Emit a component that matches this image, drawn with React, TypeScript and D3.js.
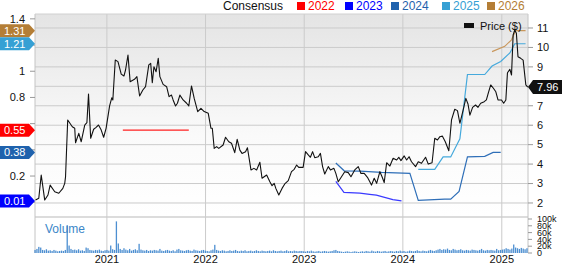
import React, { useEffect } from 'react';
import * as d3 from 'd3';

// ---------- DATA ----------
const priceDates = [
  '2020-04-12','2020-04-24','2020-05-03','2020-05-16','2020-05-28','2020-06-05','2020-06-22','2020-07-07','2020-07-22','2020-07-29',
  '2020-08-01','2020-08-09','2020-08-26','2020-09-04','2020-09-07','2020-09-19','2020-09-28','2020-10-11','2020-10-19','2020-10-25',
  '2020-11-02','2020-11-13','2020-11-22','2020-12-01','2020-12-11','2020-12-20','2020-12-29','2021-01-11','2021-01-19','2021-01-23',
  '2021-02-01','2021-02-11','2021-02-23','2021-03-05','2021-03-11','2021-03-20','2021-03-28','2021-04-13','2021-04-22','2021-05-02',
  '2021-05-14','2021-05-24','2021-06-05','2021-06-12','2021-06-18','2021-06-24','2021-07-02','2021-07-10','2021-07-16','2021-07-28',
  '2021-08-10','2021-08-19','2021-08-28','2021-09-03','2021-09-12','2021-09-19','2021-09-28','2021-10-10','2021-10-23','2021-10-31',
  '2021-11-10','2021-11-20','2021-12-03','2021-12-15','2021-12-27','2022-01-11','2022-01-21','2022-01-26','2022-02-02','2022-02-11',
  '2022-02-19','2022-03-07','2022-03-16','2022-03-28','2022-04-07','2022-04-19','2022-04-28','2022-05-08','2022-05-16','2022-05-29',
  '2022-06-05','2022-06-18','2022-06-29','2022-07-09','2022-07-21','2022-07-29','2022-08-15','2022-08-27','2022-09-04','2022-09-12',
  '2022-09-18','2022-09-29','2022-10-11','2022-10-21','2022-11-03','2022-11-15','2022-11-25','2022-12-04','2022-12-12','2022-12-28',
  '2023-01-06','2023-01-16','2023-01-24','2023-02-01','2023-02-09','2023-02-22','2023-03-02','2023-03-10','2023-03-18','2023-03-31',
  '2023-04-08','2023-04-21','2023-04-28','2023-05-07','2023-05-19','2023-05-31','2023-06-13','2023-06-23','2023-07-07','2023-07-20',
  '2023-07-30','2023-08-11','2023-08-23','2023-09-07','2023-09-17','2023-09-26','2023-10-08','2023-10-16','2023-10-24','2023-11-02',
  '2023-11-14','2023-11-26','2023-12-09','2023-12-17','2023-12-25','2024-01-06','2024-01-15','2024-01-24','2024-02-02','2024-02-17',
  '2024-02-27','2024-03-10','2024-03-25','2024-04-04','2024-04-18','2024-04-28','2024-05-08','2024-05-17','2024-05-26','2024-06-06',
  '2024-06-19','2024-06-29','2024-07-11','2024-07-21','2024-07-30','2024-08-11','2024-08-21','2024-08-29','2024-09-05','2024-09-15',
  '2024-09-26','2024-10-05','2024-10-15','2024-10-28','2024-11-05','2024-11-11','2024-11-21','2024-12-01','2024-12-10','2024-12-18',
  '2024-12-31','2025-01-08','2025-01-16','2025-01-22','2025-01-31','2025-02-06','2025-02-12','2025-02-18','2025-02-24','2025-03-02',
  '2025-03-12','2025-03-21','2025-03-31','2025-04-07',
];
const priceValues = [
  2.15, 2.24, 3.44, 2.15, 2.41, 2.92, 2.58, 2.5, 2.75, 3.01,
  3.35, 6.27, 5.92, 5.84, 5.1, 5.58, 5.15, 6.01, 6.13, 7.6,
  5.33, 5.79, 5.89, 6.01, 5.75, 5.38, 5.84, 6.99, 7.41, 7.3,
  9.35, 9.27, 8.63, 8.53, 8.84, 9.61, 8.24, 8.36, 8.5, 7.5,
  7.81, 7.98, 9.1, 9.18, 8.19, 9.01, 8.75, 9.44, 8.5, 8.1,
  7.98, 7.47, 7.55, 7.3, 6.99, 7.13, 7.55, 7.3, 7.13, 6.99,
  8.02, 7.38, 6.7, 6.87, 6.7, 6.61, 5.84, 5.84, 4.81, 4.9,
  4.81, 4.98, 5.38, 5.15, 5.07, 4.59, 5.27, 4.72, 4.55, 4.64,
  4.84, 3.7, 3.78, 3.7, 4.09, 3.27, 3.44, 3.09, 2.89, 3.01,
  2.75, 2.41, 2.75, 2.98, 3.15, 3.61, 3.73, 3.95, 3.83, 3.83,
  4.64, 4.47, 4.35, 4.64, 4.33, 4.38, 4.55, 3.87, 3.49, 3.87,
  3.7, 3.78, 3.52, 3.09, 3.35, 3.61, 3.56, 3.35, 3.7, 3.87,
  3.52, 3.52, 3.32, 2.92, 3.27, 3.01, 3.61, 3.35, 3.05, 4.07,
  3.9, 4.3, 4.21, 4.35, 4.18, 4.42, 4.21, 4.38, 4.12, 3.87,
  4.12, 4.04, 4.35, 4.0, 4.07, 5.33, 5.24, 5.41, 5.44, 5.15,
  4.69, 6.27, 6.82, 6.75, 6.1, 6.78, 7.38, 7.09, 6.52, 6.92,
  7.04, 6.92, 7.13, 7.21, 7.3, 7.6, 8.07, 7.9, 7.72, 7.3,
  7.3, 7.13, 7.3, 8.7, 8.87, 8.58, 10.64, 10.9, 10.73, 9.52,
  9.44, 9.35, 8.07, 7.96,
];

const consensusYears = ['2022', '2023', '2024', '2025', '2026'];
const eps2022Dates = ['2021-03-01', '2021-10-31'];
const eps2022Values = [0.55, 0.55];
const eps2023Dates = ['2023-04-28', '2023-05-28', '2023-07-26', '2023-08-31', '2023-09-25', '2023-11-25', '2023-12-27'];
const eps2023Values = [0.16, 0.075, 0.07, 0.06, 0.054, 0.02, 0.01];
const eps2024Dates = ['2023-04-28', '2023-05-29', '2023-07-26', '2023-10-14', '2024-01-27', '2024-02-27', '2024-06-04', '2024-06-26', '2024-07-27', '2024-08-27', '2024-10-30', '2024-11-30', '2024-12-28'];
const eps2024Values = [0.30, 0.24, 0.238, 0.228, 0.22, 0.014, 0.024, 0.024, 0.082, 0.346, 0.35, 0.38, 0.38];
const eps2025Dates = ['2024-02-27', '2024-04-28', '2024-05-29', '2024-06-26', '2024-07-30', '2024-08-27', '2024-10-30', '2024-11-26', '2024-12-28', '2025-01-31', '2025-02-18', '2025-03-30'];
const eps2025Values = [0.251, 0.251, 0.346, 0.346, 0.485, 0.975, 0.975, 1.04, 1.075, 1.14, 1.21, 1.21];
const eps2026Dates = ['2024-11-26', '2025-01-12', '2025-02-06', '2025-02-21', '2025-03-30'];
const eps2026Values = [1.15, 1.19, 1.24, 1.31, 1.31];

const volumeStart = '2020-04-10';
const volumeK = [
  9, 12, 18, 16, 9, 8, 11, 7, 8, 6, 9, 7, 5, 6, 7, 6, 9,
  82,
  22, 12, 9, 10, 8, 11, 7, 8, 6, 16, 14, 9, 8,
  7, 9, 8, 10, 7, 6, 8, 9, 7, 22, 11, 9,
  93,
  28, 12, 9, 14, 10, 8, 12, 7, 9, 11, 8, 27,
  10, 8, 7, 9, 6, 8, 7, 9, 8, 7, 12, 7, 6, 8, 9, 7, 6, 8, 5, 10, 12, 8, 7, 6, 8, 9, 7, 6, 10, 8, 7, 6, 8, 9, 7, 6, 5, 8, 10, 24,
  9, 7, 6, 8, 7, 5, 6, 8, 6, 7, 9, 6, 5, 7, 6, 8, 5, 6, 7, 5, 6, 8, 6, 5, 7, 6, 5, 6, 7, 5, 8, 6, 5, 6, 7, 5, 6, 8, 5, 6, 5, 7, 6, 5, 6,
  6, 5, 4, 6, 5, 7, 5, 4, 5, 6, 4, 5, 6, 5, 4, 5, 6, 8, 9, 6, 5, 4, 3, 4, 5, 4, 3, 4, 5, 4, 3, 4, 5, 4, 6, 5, 4, 7, 5, 4, 6, 5, 4, 5, 6, 4, 5, 6, 5, 4,
  6, 5, 7, 5, 6, 4, 5, 7, 6, 5, 6, 8, 6, 5, 7, 6, 5, 7, 9, 7, 6, 8, 10, 12, 9, 11, 10, 13, 9, 8, 12, 10, 8, 9, 11, 8, 7, 9, 8, 7, 10, 9, 8, 7, 9, 12, 8, 7, 9, 8,
  9, 8, 7, 12, 8, 9, 10, 11, 14, 12, 10, 13, 25, 16, 14, 12, 15, 13, 11, 14,
];

const priceTicks = [2, 3, 4, 5, 6, 7, 8, 9, 10, 11];
const epsTicks = [0, 0.2, 0.4, 0.6, 0.8, 1, 1.2, 1.4];
const volumeTicks = [0, 20, 40, 60, 80, 100];
const yearTicks = ['2021', '2022', '2023', '2024', '2025'];

// ---------- CHART ----------
const W = 562, H = 264;
const PL = 35, PR = 528, PT = 14, PB = 216, VT = 219, VB = 253;
const FONT = "'Liberation Sans', Arial, Helvetica, sans-serif";
const yearColors: Record<string, string> = {
  '2022': '#ff0000', '2023': '#0000ff', '2024': '#1f62ad', '2025': '#36a0d4', '2026': '#b47e36',
};
const lineColors: Record<string, string> = {
  '2022': '#ff2020', '2023': '#3a3aff', '2024': '#2f6fb8', '2025': '#45a9dc', '2026': '#c9975c',
};

export default function App() {
  useEffect(() => { document.body.style.margin = '0'; }, []);
  const parse = (s: string) => new Date(s + 'T00:00:00Z');
  const x = d3.scaleUtc().domain([parse('2020-04-10'), parse('2025-04-08')]).range([PL, PR]);
  const yP = d3.scaleLinear().domain([1.33, 11.72]).range([PB, PT]);
  const yE = d3.scaleLinear().domain([-0.105, 1.437]).range([PB, PT]);
  const yV = d3.scaleLinear().domain([0, 100]).range([VB, VT]);

  const price: [Date, number][] = priceDates.map((d, i) => [parse(d), priceValues[i]]);
  const priceLine = d3.line<[Date, number]>().x(d => x(d[0])).y(d => yP(d[1]));
  const epsLine = d3.line<[Date, number]>().x(d => x(d[0])).y(d => yE(d[1]));

  const eps: Record<string, [Date, number][]> = {};
  const src: Record<string, [string[], number[]]> = {
    '2022': [eps2022Dates, eps2022Values], '2023': [eps2023Dates, eps2023Values],
    '2024': [eps2024Dates, eps2024Values], '2025': [eps2025Dates, eps2025Values],
    '2026': [eps2026Dates, eps2026Values],
  };
  consensusYears.forEach(y => { eps[y] = src[y][0].map((d, i) => [parse(d), src[y][1][i]]); });

  const vStart = parse(volumeStart);
  const vols = volumeK.map((v, i) => ({ d: d3.utcDay.offset(vStart, i * 7), v }));

  const lastPrice = priceValues[priceValues.length - 1];
  const lastY = yP(lastPrice);

  const tagOrder = ['2026', '2025', '2022', '2024', '2023'];
  const tagCenters = tagOrder.map(y => yE(eps[y][eps[y].length - 1][1]));
  const legendItems = [
    { y: '2022', x: 297 }, { y: '2023', x: 345 }, { y: '2024', x: 391 }, { y: '2025', x: 442 }, { y: '2026', x: 487 },
  ];

  return (
    <svg width={W} height={H} style={{ display: 'block', position: 'absolute', left: 0, top: 0 }} fontFamily={FONT}>
      <defs>
        <linearGradient id="bg" x1="0" y1="0" x2="0" y2="1">
          <stop offset="0%" stopColor="#e4e4e4" />
          <stop offset="60%" stopColor="#fafafa" />
          <stop offset="100%" stopColor="#ffffff" />
        </linearGradient>
      </defs>
      <rect x={0} y={0} width={W} height={H} fill="#ffffff" />
      <rect x={PL} y={PT} width={PR - PL} height={PB - PT} fill="url(#bg)" />
      {priceTicks.map(t => (
        <line key={'g' + t} x1={PL} x2={PR} y1={yP(t)} y2={yP(t)} stroke="#cbcbcb" strokeWidth={1} />
      ))}
      <line x1={PL} x2={PR} y1={PB + 1} y2={PB + 1} stroke="#dcdcdc" strokeWidth={2} />
      {yearTicks.map(t => (
        <line key={'v' + t} x1={x(parse(t + '-01-01'))} x2={x(parse(t + '-01-01'))} y1={PT} y2={VB} stroke="#cbcbcb" strokeWidth={1} />
      ))}
      <line x1={PL} x2={PL} y1={PT} y2={VB} stroke="#c4c4c4" />
      <line x1={PR} x2={PR} y1={PT} y2={VB} stroke="#c4c4c4" />
      <line x1={PL} x2={PR} y1={PT} y2={PT} stroke="#d0d0d0" />

      {vols.map((b, i) => (
        <rect key={'b' + i} x={x(b.d) - 0.6} y={yV(b.v)} width={1.3} height={VB - yV(b.v)} fill="#4d8fd1" />
      ))}
      <text x={45} y={233} fontSize={12} fill="#3b86c8">Volume</text>

      {consensusYears.map(y => (
        <path key={'e' + y} d={epsLine(eps[y]) || ''} fill="none" stroke={lineColors[y]} strokeWidth={1.2} />
      ))}
      <path d={priceLine(price) || ''} fill="none" stroke="#111" strokeWidth={1.1} strokeLinejoin="round" />

      {epsTicks.map(t => {
        const yy = yE(t);
        const hidden = tagCenters.some(c => Math.abs(c - yy) < 9);
        return (
          <g key={'l' + t}>
            <line x1={PL - 5} x2={PL} y1={yy} y2={yy} stroke="#999" />
            {!hidden && <text x={PL - 10} y={yy} dy="0.35em" textAnchor="end" fontSize={11} fill="#111">{String(t)}</text>}
          </g>
        );
      })}
      {priceTicks.map(t => {
        const yy = yP(t);
        const hidden = Math.abs(yy - lastY) < 9;
        return (
          <g key={'r' + t}>
            <line x1={PR} x2={PR + 5} y1={yy} y2={yy} stroke="#999" />
            {!hidden && <text x={PR + 9} y={yy} dy="0.35em" fontSize={11} fill="#111">{String(t)}</text>}
          </g>
        );
      })}
      {volumeTicks.map(t => (
        <g key={'vt' + t}>
          <line x1={PR} x2={PR + 4} y1={yV(t)} y2={yV(t)} stroke="#999" />
          <text x={PR + 9} y={yV(t)} dy="0.35em" fontSize={9} fill="#111">{t === 0 ? '0' : t + 'k'}</text>
        </g>
      ))}
      {yearTicks.map(t => (
        <text key={'x' + t} x={x(parse(t + '-01-01'))} y={263} textAnchor="middle" fontSize={11} fill="#111">{t}</text>
      ))}

      {tagOrder.map((y, i) => {
        const arr = eps[y];
        const v = arr[arr.length - 1][1];
        const c = tagCenters[i];
        return (
          <g key={'t' + y}>
            <path d={`M0,${c - 6.5}L29,${c - 6.5}L35,${c}L29,${c + 6.5}L0,${c + 6.5}Z`} fill={yearColors[y]} />
            <text x={4} y={c} dy="0.36em" fontSize={11} fill="#fff">{v.toFixed(2)}</text>
          </g>
        );
      })}
      <path d={`M${PR},${lastY}L${PR + 5},${lastY - 7}L${W},${lastY - 7}L${W},${lastY + 7}L${PR + 5},${lastY + 7}Z`} fill="#111" />
      <text x={PR + 9} y={lastY} dy="0.36em" fontSize={11} fill="#fff">{lastPrice.toFixed(2)}</text>

      <rect x={464} y={23} width={10} height={5} fill="#111" />
      <text x={480} y={26} dy="0.36em" fontSize={11} fill="#111">Price ($)</text>

      <text x={223} y={10} fontSize={12} fill="#111">Consensus</text>
      {legendItems.map(l => (
        <g key={'lg' + l.y}>
          <rect x={l.x} y={2} width={8} height={8} fill={yearColors[l.y]} />
          <text x={l.x + 11} y={10} fontSize={12} fill={yearColors[l.y]}>{l.y}</text>
        </g>
      ))}
    </svg>
  );
}
